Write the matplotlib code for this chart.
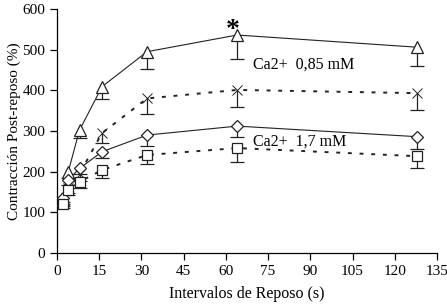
import numpy as np
import matplotlib
matplotlib.use("Agg")
import matplotlib.pyplot as plt

plt.rcParams['font.family'] = ['Liberation Serif', 'DejaVu Serif']

# rest intervals (s)
intervals = np.array([2, 4, 8, 16, 32, 64, 128])

# Ca2+ 0.85 mM
tri_y = np.array([130, 200, 302, 409, 495, 536, 506])
tri_err = np.array([10, 15, 20, 31, 42, 60, 46])
x_y = np.array([125, 160, 195, 295, 380, 401, 393])
x_err = np.array([10, 12, 18, 25, 38, 41, 41])

# Ca2+ 1.7 mM
dia_y = np.array([135, 180, 208, 249, 290, 312, 286])
dia_err = np.array([10, 12, 14, 16, 27, 28, 31])
sq_y = np.array([120, 155, 175, 204, 241, 258, 238])
sq_err = np.array([10, 12, 15, 20, 22, 34, 30])

fig = plt.figure(figsize=(4.47, 3.08), dpi=100)
ax = fig.add_axes([0.1275, 0.1786, 0.85, 0.7922])

series = [
    (tri_y, tri_err, '^', 8, '-'),
    (x_y, x_err, 'x', 7, (0, (2, 4))),
    (dia_y, dia_err, 'D', 6, '-'),
    (sq_y, sq_err, 's', 6.5, (0, (2, 4))),
]

for y, err, m, ms, ls in series:
    eb = ax.errorbar(intervals, y, yerr=[err, np.zeros_like(err)], fmt='none',
                     ecolor='#222222', elinewidth=0.9, capsize=5, capthick=0.9, zorder=2)
    eb[1][1].set_visible(False)
    lw = 0.8 if ls == '-' else 1.4
    ax.plot(intervals, y, color='#222222', lw=lw, ls=ls, zorder=1)
    face = 'none' if m == 'x' else 'white'
    ax.plot(intervals, y, ls='none', marker=m, ms=ms, mfc=face, mec='#222222',
            mew=0.7 if m == 'x' else 0.9, zorder=3)

ax.text(62.5, 546, '*', fontsize=20, fontweight='bold', ha='center', va='center')
ax.text(69.5, 462, 'Ca2+  0,85 mM', fontsize=11.5, va='center')
ax.text(69.5, 273, 'Ca2+  1,7 mM', fontsize=11.5, va='center')

ax.set_xlim(0, 135)
ax.set_ylim(0, 600)
ax.set_xticks(np.arange(0, 136, 15))
ax.set_yticks(np.arange(0, 601, 100))
for s in ['top', 'right']:
    ax.spines[s].set_visible(False)
for s in ['left', 'bottom']:
    ax.spines[s].set_linewidth(0.9)
ax.tick_params(direction='out', length=5, width=0.9, labelsize=11)
ax.set_xlabel('Intervalos de Reposo (s)', fontsize=11.5, labelpad=6)
ax.set_ylabel('Contracción Post-reposo (%)', fontsize=11, labelpad=1)

fig.savefig('out.png', dpi=100)
